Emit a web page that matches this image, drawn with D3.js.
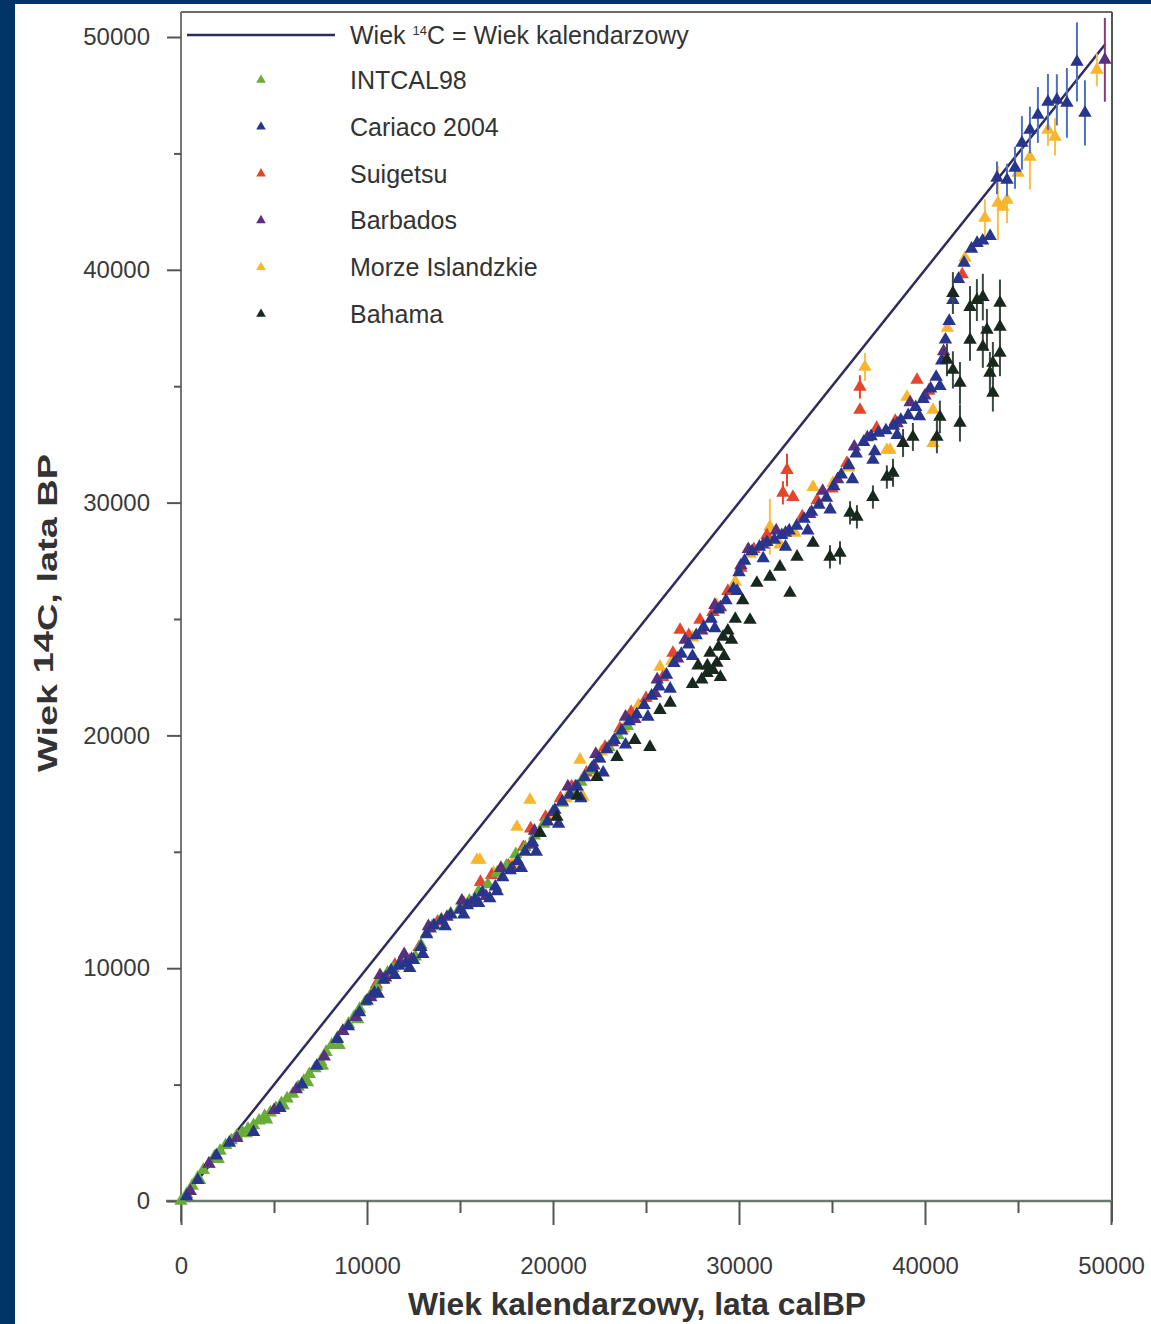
<html>
<meta charset="utf-8" />
<head>
<title>Wiek 14C vs wiek kalendarzowy</title>
<script src="https://cdn.jsdelivr.net/npm/d3@7"></script>
<style>
	body { margin:0; background:#003366; }
	svg { display:block; }
</style>
<script>
// [wiek kalendarzowy, wiek 14C, (niepewność)]
const intcal98 = [[0,0],[300,300],[600,650],[900,1000],[1200,1330],[1500,1600],[1800,1900],[2100,2150],[2400,2400],[2700,2600],
	[3000,2800],[3300,2950],[3600,3100],[3900,3250],[4200,3450],[4500,3650],[4800,3800],[5100,4000],[5400,4200],[5700,4400],
	[6000,4600],[6300,4900],[6600,5150],[6900,5450],[7200,5700],[7500,6000],[7800,6400],[8100,6700],[8400,7000],[8700,7300],
	[9000,7600],[9300,7900],[9600,8250],[9900,8550],[10200,8850],[10500,9200],[10800,9500],[11100,9800],[11400,10000],[11700,10150],
	[12000,10250],[12300,10350],[12600,10500],[12900,11000],[13200,11500],[13500,11800],[14000,12100],[14500,12350],[15000,12600],
	[15500,12900],[16000,13300],[16500,13600],[17000,14100],[17500,14400],[18000,14900],[18500,15200],[19000,15700],[19500,16200],
	[20000,16700],[20500,17100],[21000,17600],[21500,18000],[22000,18500],[22500,19000],[23000,19500],[23500,20000],[24000,20400],
	[1000,900],[2000,1800],[3500,2900],[4600,3500],[5500,4100],[6800,5100],[7600,5800],[8500,6700],[9500,7800]];

const cariaco = [[300,200],[900,900],[1900,1950],[2600,2500],[3900,2960],[5320,3990],[6500,5000],[7300,5800],[8400,6950],[9000,7500],
	[9600,8100],[10000,8600],[10400,8950],[10900,9500],[11300,9900],[11700,10100],[12100,10200],[12500,10350],[12900,10900],[13200,11450],
	[13600,11850],[14000,12050],[14500,12300],[15000,12500],[15400,12700],[15800,12950],[16200,13250],[16600,13000],[16900,13500],[17300,13900],
	[17700,14200],[18100,14600],[18500,15000],[18900,15400],[19300,15800],[19700,16300],[20100,16800],[20500,17150],[20900,17450],[21300,17800],
	[21700,18200],[22100,18600],[22500,19000],[22900,19400],[23300,19800],[23700,20200],[24100,20600],[24500,20900],[24900,21300],[25300,21700],
	[25700,22100],[26100,22600],[26500,23100],[26900,23500],[27300,23900],[27700,24300],[28100,24650],[28500,25000],[28900,25400],[29300,25800],
	[29700,26300],[30000,27000],[30300,27500],[30700,27900],[31100,28100],[31500,28300],[31900,28400],[32300,28600],[32700,28800],[33100,29000],
	[33500,29300],[33900,29600],[34300,29900],[34700,30200],[35100,30700],[35500,31200],[35900,31600],[36300,32100],[36700,32600],[37100,32850],
	[37200,31830],[37500,33000],[37900,33100],[38300,33300],[38700,33550],[39100,33750],[39500,34100],[39900,34450],[40300,34900],[40600,35400],
	[40900,36100],[41100,37000],[41300,37800],[41500,38700],[41800,39600],[42100,40300],[42500,40900],[42800,41150],[43100,41250],[43500,41450],
	[10600,8900],[11500,9700],[12300,10000],[13000,10600],[14200,11800],[15200,12300],[16000,12800],[17000,13300],[18300,14300],[19100,15000],
	[20300,16200],[21500,17300],[22700,18400],[23900,19600],[25100,20800],[26300,22000],[27500,23400],[28700,24600],[29900,26200],[31300,27600],
	[32500,28100],[33700,28800],[34900,29700],[36100,31000],[37300,32200],[38500,32900],[39700,33700],[40800,35000],
	[43870,43950,700],[44410,43860,700],[44840,44380,900],[45210,45450,1150],[45640,46010,1000],[46070,46650,1200],[46610,47210,1200],
	[47090,47300,1100],[47630,47170,1500],[48170,48930,1700],[48600,46740,1400]];

const suigetsu = [[10500,9300],[11500,10150],[12800,10900],[13800,12000],[15200,12800],[16100,13700],[16700,14000],[17600,14400],[18400,15200],
	[18800,16000],[19600,16500],[20400,17300],[21000,17800],[21800,18400],[22800,19500],[23600,20300],[24200,21000],[25000,21600],[25900,22500],
	[26450,23540],[26830,24530],[27300,24300],[27900,24960],[28600,25300],[29400,26200],[30100,27200],[30800,28000],[31500,28600],
	[32360,30420,500],[32580,31400,700],[32900,30240],[33400,29400],[34200,30100],[35000,30600],[35800,31700],[36500,34970,500],[36500,33980],
	[37400,33200],[38400,33500],[39570,35270],[40200,34800],[41100,36200],[42000,39800]];

const barbados = [[500,420],[1500,1600],[3000,2700],[5000,3900],[6200,4800],[7700,6200],[8700,7300],[9400,7900],[10200,8750],[11000,9600],
	[11800,10250],[12400,10400],[13400,11700],[14300,12200],[15600,12800],[16400,13100],[17800,14300],[18800,15300],[20000,16700],[21200,17800],
	[22200,18700],[23200,19700],[24400,20700],[25500,21800],[26700,23300],[28000,24500],[29000,25500],[30100,27300],[31300,28200],[32500,28700],
	[33800,29500],[35300,31000],[36900,32800],[38500,33400],[40000,34600],[41000,36500],
	[10700,9700],[12000,10600],[13300,11800],[15100,12900],[17200,14300],[19000,15900],[20800,17800],[22300,19200],[23900,20800],[25600,22400],
	[27100,24100],[28700,25600],[30500,28000],[32000,28800],[34500,30500],[36200,32400],[39200,34300],[49670,49020,1800]];

const morze = [[15910,14650],[16070,14650],[16800,14100],[17800,14500],[18060,16070],[18760,17230],[19800,16500],[20700,17300],[21450,18950],
	[21610,17360],[22600,19300],[23800,20300],[24600,21300],[25750,22940],[26400,23200],[27500,24200],[28800,25600],[29800,26600],[30600,27800],
	[31660,28960,1200],[32200,28200],[33000,28700],[33980,30670],[35050,30840],[35900,31500],[36770,35830,600],[37950,32260],[38120,32260],
	[39030,34540],[40430,33980],[40430,32560],[41200,37500],[42150,40510],[43220,42230,800],[43920,42870,1600],[44190,42700],[44410,43000,1000],
	[45000,44160],[45640,44850,1400],[46610,46010,700],[46990,45710,800],[49240,48590,700]];

const bahama = [[19300,15810],[20210,16500],[21300,17400],[22360,18210],[23440,19070],[24400,19800],[25210,19500],[25750,21090],[26300,21400],
	[27500,22200],[28280,22680],[28440,23540],[28810,23110],[29140,24230],[29600,24100],[30590,24960],[30960,26550],[31660,26810],[32200,27240],
	[27800,23000],[28000,22400],[28300,23000],[28600,22800],[28900,23800],[29000,22500],[29200,23400],[29400,24500],[29800,25000],[30200,25800],
	[32740,26120],[33120,27670],[33980,28270],[34890,27670,500],[35430,27840,500],[35970,29560,500],[36340,29390,500],[37200,30240,500],
	[37950,31100,500],[38280,31280,600],[38820,32560,600],[39350,32820,600],[40640,32820,700],[40800,33680,700],[41180,36130,700],
	[41500,35700,800],[41880,35140,900],[41880,33420,800],[42420,38400,900],[42420,36990,900],[42790,38700,900],[43110,38830,1000],
	[43110,36690,900],[43330,37420,900],[43490,35570,900],[43650,36000,900],[43650,34710,800],[44030,38580,1000],[44030,37550,1000],
	[44030,36430,1000],[41500,39000,900]];

const oneToOne = [[0,0],[49700,49700]];

const seriesNames = ["INTCAL98", "Cariaco 2004", "Suigetsu", "Barbados", "Morze Islandzkie", "Bahama"];
const seriesColors = ["#6aac3a", "#28358c", "#e2462c", "#5a2f7e", "#f8b52e", "#18281f"];
const barColors = ["#6aac3a", "#4d72c4", "#e2462c", "#8a3a78", "#f8c04a", "#3a4a40"];
const majorTicks = [0, 10000, 20000, 30000, 40000, 50000];
const minorTicks = [5000, 15000, 25000, 35000, 45000];

window.onload = function() {
	const svg = d3.select("svg");

	svg.append("rect").attr("x", 15).attr("y", 4).attr("width", 1136).attr("height", 1320).style("fill", "#fff");

	const x = d3.scaleLinear().domain([0, 50000]).range([181, 1111]);
	const y = d3.scaleLinear().domain([0, 50000]).range([1201, 37]);

	// ramka
	svg.append("line").attr("x1", 181).attr("x2", 1112).attr("y1", 12).attr("y2", 12).style("stroke", "#6a6a6a").style("stroke-width", 2);
	svg.append("line").attr("x1", 1112).attr("x2", 1112).attr("y1", 12).attr("y2", 1222).style("stroke", "#555").style("stroke-width", 2);
	svg.append("line").attr("x1", 181).attr("x2", 181).attr("y1", 12).attr("y2", 1222).style("stroke", "#777").style("stroke-width", 2);
	svg.append("line").attr("x1", 166).attr("x2", 1112).attr("y1", 1201).attr("y2", 1201).style("stroke", "#6a7a6a").style("stroke-width", 2.5);

	// osie
	svg.append("g").attr("transform", "translate(181,0)")
		.call(d3.axisLeft(y).tickValues(majorTicks).tickSize(14).tickPadding(17).tickFormat(d3.format("d")));
	svg.append("g").attr("transform", "translate(181,0)")
		.call(d3.axisLeft(y).tickValues(minorTicks).tickSize(7).tickFormat(""));
	svg.append("g").attr("transform", "translate(0,1201)")
		.call(d3.axisBottom(x).tickValues(majorTicks).tickSize(24).tickPadding(32).tickFormat(d3.format("d")));
	svg.append("g").attr("transform", "translate(0,1201)")
		.call(d3.axisBottom(x).tickValues(minorTicks).tickSize(12).tickFormat(""));

	svg.selectAll(".domain").remove();
	svg.selectAll(".tick line").style("stroke", "#555").style("stroke-width", 2);
	svg.selectAll(".tick text").style("font-family", "'Liberation Sans', Arial, sans-serif")
		.style("font-size", "24px").style("fill", "#3a3a3a");

	// linia 1:1
	svg.append("path").datum(oneToOne)
		.attr("d", d3.line().x(function(d) { return x(d[0]); }).y(function(d) { return y(d[1]); }))
		.style("fill", "none").style("stroke", "#2e2c5e").style("stroke-width", 2.5);

	// serie danych
	const allSeries = [intcal98, cariaco, suigetsu, barbados, morze, bahama];
	const drawOrder = [4, 2, 0, 3, 1, 5];
	const tri = d3.symbol().type(d3.symbolTriangle).size(78);

	drawOrder.forEach(function(i) {
		const g = svg.append("g");
		g.selectAll("line").data(allSeries[i].filter(function(d) { return d.length > 2; }))
			.enter().append("line")
			.attr("x1", function(d) { return x(d[0]); })
			.attr("x2", function(d) { return x(d[0]); })
			.attr("y1", function(d) { return y(d[1] - d[2]); })
			.attr("y2", function(d) { return y(d[1] + d[2]); })
			.style("stroke", barColors[i]).style("stroke-width", 2);
		g.selectAll("path").data(allSeries[i])
			.enter().append("path")
			.attr("d", tri)
			.attr("transform", function(d) { return "translate(" + x(d[0]) + "," + y(d[1]) + ")"; })
			.style("fill", seriesColors[i]);
	});

	// legenda
	const leg = svg.append("g").style("font-family", "'Liberation Sans', Arial, sans-serif").style("font-size", "25px").style("fill", "#333");
	leg.append("line").attr("x1", 187).attr("x2", 335).attr("y1", 35).attr("y2", 35).style("stroke", "#2e2c5e").style("stroke-width", 2.5);
	const t0 = leg.append("text").attr("x", 350).attr("y", 44);
	t0.append("tspan").text("Wiek ");
	t0.append("tspan").attr("dy", -9).style("font-size", "13px").text("14");
	t0.append("tspan").attr("dy", 9).text("C = Wiek kalendarzowy");

	seriesNames.forEach(function(name, i) {
		const ly = 80 + i * 46.8;
		leg.append("path").attr("d", d3.symbol().type(d3.symbolTriangle).size(40))
			.attr("transform", "translate(261," + ly + ")").style("fill", seriesColors[i]);
		leg.append("text").attr("x", 350).attr("y", ly + 9).text(name);
	});

	// tytuły osi
	svg.append("text").attr("x", 637).attr("y", 1315).attr("text-anchor", "middle")
		.attr("textLength", 458).attr("lengthAdjust", "spacingAndGlyphs")
		.style("font-family", "'Liberation Sans', Arial, sans-serif").style("font-weight", "bold")
		.style("font-size", "31px").style("fill", "#333").text("Wiek kalendarzowy, lata calBP");

	const yt = svg.append("text").attr("transform", "translate(57,613) rotate(-90)").attr("text-anchor", "middle")
		.attr("textLength", 318).attr("lengthAdjust", "spacingAndGlyphs")
		.style("font-family", "'Liberation Sans', Arial, sans-serif").style("font-weight", "bold")
		.style("font-size", "28px").style("fill", "#333");
	yt.append("tspan").text("Wiek ");
	yt.append("tspan").attr("dy", -4).text("14");
	yt.append("tspan").attr("dy", 4).text("C, lata BP");
};
</script>
</head>
<body>
	<svg width="1151" height="1324"></svg>
</body>
</html>
